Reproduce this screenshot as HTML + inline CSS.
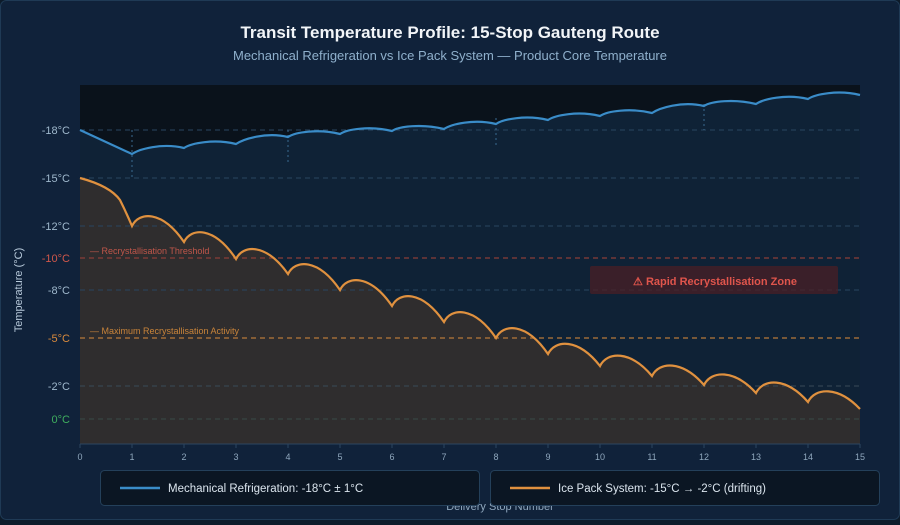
<!DOCTYPE html>
<html><head><meta charset="utf-8"><style>
html,body{margin:0;padding:0;background:#0d1b2a;}
body{width:900px;height:520px;overflow:hidden;font-family:"Liberation Sans",sans-serif;}
</style></head><body>
<svg id="s" width="900" height="520" xmlns="http://www.w3.org/2000/svg" font-family="Liberation Sans, sans-serif">
<rect x="0.5" y="0.5" width="899" height="519" rx="6" fill="#10223a" stroke="#1f3a55"/>
<text x="450" y="38" text-anchor="middle" fill="#f2f5f8" font-size="17" font-weight="bold">Transit Temperature Profile: 15-Stop Gauteng Route</text>
<text x="450" y="60" text-anchor="middle" fill="#8fb0cc" font-size="13">Mechanical Refrigeration vs Ice Pack System — Product Core Temperature</text>
<rect x="80" y="85" width="780" height="359" fill="#0a121b"/>
<path id="bfill" fill="#0f2236"/>
<path id="ofill" fill="#2f2d2e"/>
<g id="grid"></g>
<path id="bline" fill="none" stroke="#3a8cc8" stroke-width="2.2"/>
<path id="oline" fill="none" stroke="#e0913f" stroke-width="2.2"/>
<line x1="80" y1="444" x2="860" y2="444" stroke="#2c4560"/>
<g id="xt"></g>
<rect x="590" y="266" width="248" height="28" rx="2" fill="#4a1f25" opacity="0.75"/>
<text x="715" y="285" text-anchor="middle" fill="#e0554c" font-size="11" font-weight="bold">⚠ Rapid Recrystallisation Zone</text>
<text x="90" y="254" fill="#c0564a" font-size="9">— Recrystallisation Threshold</text>
<text x="90" y="334" fill="#c9843a" font-size="9">— Maximum Recrystallisation Activity</text>
<text x="0" y="0" transform="translate(22,290) rotate(-90)" text-anchor="middle" fill="#b8cadb" font-size="11">Temperature (°C)</text>
<text x="500" y="510" text-anchor="middle" fill="#8fa7bd" font-size="11">Delivery Stop Number</text>
<rect x="100.5" y="470.5" width="379" height="35" rx="4" fill="#0b1623" stroke="#24405a"/>
<line x1="120" y1="488" x2="160" y2="488" stroke="#3a8cc8" stroke-width="2.5"/>
<text x="168" y="492" fill="#dbe5ee" font-size="11.5">Mechanical Refrigeration: -18°C ± 1°C</text>
<rect x="490.5" y="470.5" width="389" height="35" rx="4" fill="#0b1623" stroke="#24405a"/>
<line x1="510" y1="488" x2="550" y2="488" stroke="#e0913f" stroke-width="2.5"/>
<text x="558" y="492" fill="#dbe5ee" font-size="11.5">Ice Pack System: -15°C → -2°C (drifting)</text>
</svg>
<script>
const NS="http://www.w3.org/2000/svg";
function el(p,t,a,txt){const e=document.createElementNS(NS,t);for(const k in a)e.setAttribute(k,a[k]);if(txt!=null)e.textContent=txt;document.getElementById(p).appendChild(e);}
const X=i=>80+52*i;
const ticks=[[-18,130,"#9fb8cc","#2a4560"],[-15,178,"#9fb8cc","#2a4560"],[-12,226,"#9fb8cc","#2a4560"],[-10,258,"#d0574a","#8a3e38"],[-8,290,"#9fb8cc","#2a4560"],[-5,338,"#d98a3c","#b8783a"],[-2,386,"#9fb8cc","#3a4a58"],[0,419,"#3fae5e","#3a4a48"]];
ticks.forEach(t=>{el("grid","line",{x1:80,x2:860,y1:t[1],y2:t[1],stroke:t[3],"stroke-dasharray":"5,4","stroke-width":t[0]==-10||t[0]==-5?1.3:1});
el("grid","text",{x:70,y:t[1]+4,"text-anchor":"end",fill:t[2],"font-size":11},t[0]+"°C");});
for(let i=0;i<=15;i++){el("xt","line",{x1:X(i),x2:X(i),y1:444,y2:448,stroke:"#2c4560"});el("xt","text",{x:X(i),y:460,"text-anchor":"middle",fill:"#8fa7bd","font-size":9},i);}
[[1,130,178],[4,130,162],[8,118,146],[12,104,130]].forEach(d=>el("grid","line",{x1:X(d[0]),x2:X(d[0]),y1:d[1],y2:d[2],stroke:"#3a6a90","stroke-dasharray":"2,3"}));
const B=[130,154,148,144,137,134,131,129,124,120,116,113,106,104,99,95];
const O=[178,226,242,259,274,290,306,322,338,354,366,376,385,393,402,409];
function hump(Y,i,amp){const x0=X(i),x1=X(i+1),pk=Math.min(Y[i],Y[i+1])-amp;
 return ` C${x0+7},${Y[i]-amp*1.2} ${x1-22},${pk-amp*0.35} ${x1},${Y[i+1]}`;}
let bd=`M80,130 L132,154`;
for(let i=1;i<15;i++)bd+=hump(B,i,4);
let od=`M80,178 Q110,186 120,200 Q126,212 132,226`;
for(let i=1;i<15;i++)od+=hump(O,i,12);
document.getElementById("bline").setAttribute("d",bd);
document.getElementById("bfill").setAttribute("d",bd+" L860,444 L80,444 Z");
document.getElementById("oline").setAttribute("d",od);
document.getElementById("ofill").setAttribute("d",od+" L860,444 L80,444 Z");
</script>
</body></html>
